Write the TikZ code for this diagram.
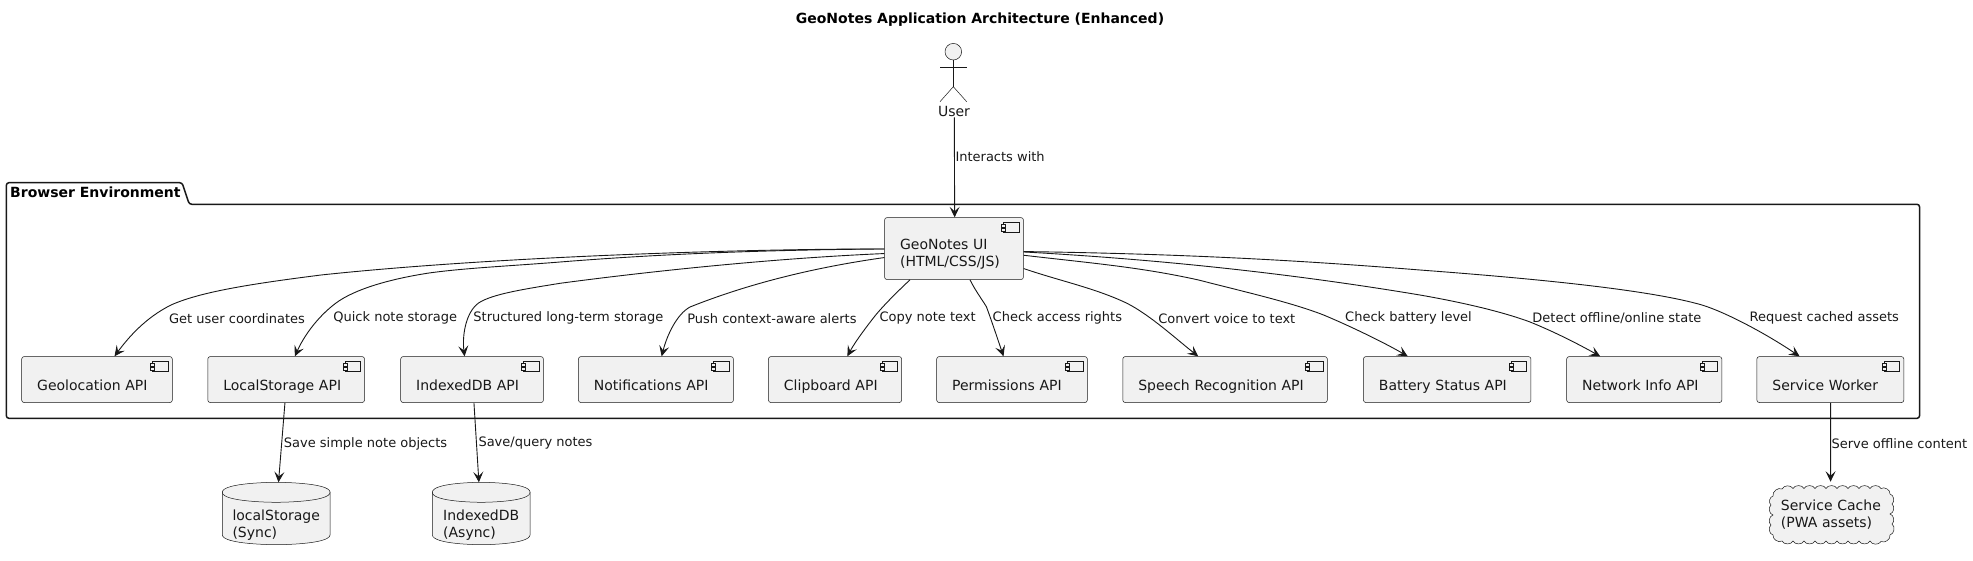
\documentclass[tikz,border=0pt]{standalone}
\usepackage{fontspec}
\setmainfont{DejaVu Sans}
\usetikzlibrary{arrows.meta,calc,backgrounds}
\definecolor{ink}{HTML}{181818}
\definecolor{boxfill}{HTML}{F1F1F1}
\newcommand{\drop}[2]{\raisebox{-#1pt}[0pt][0pt]{#2}}
\newcommand{\twolines}[2]{\begin{tabular}[b]{@{}l@{}}#1\\#2\end{tabular}}
\tikzset{
  x=1pt,y=-1pt,
  comp/.style={draw=ink,line width=0.5pt,fill=boxfill,rounded corners=2.5pt,anchor=north west,
    inner xsep=#1,inner ysep=0pt,align=left,font=\fontsize{14}{16.6}\selectfont,text=ink},
  compw/.style={text width=#1-31pt,minimum width=#1,minimum height=46pt},
  shapetext/.style={inner sep=0pt,anchor=north west,align=left,font=\fontsize{14}{16.6}\selectfont,text=ink},
  elabel/.style={inner sep=0pt,anchor=west,font=\fontsize{13}{15}\selectfont,text=ink},
  edge/.style={draw=ink,line width=0.9pt,-{Stealth[length=10.5pt,width=10pt,inset=4.5pt]}},
  thin ink/.style={draw=ink,line width=0.5pt},
  pkg/.style={draw=ink,line width=1.5pt,rounded corners=2.5pt}
}
\newcommand{\icon}[1]{%
  \draw[thin ink,fill=boxfill] ($(#1.north east)+(-20,5)$) rectangle ++(15.3,10);
  \draw[thin ink,fill=boxfill] ($(#1.north east)+(-22,7.3)$) rectangle ++(4,2.3);
  \draw[thin ink,fill=boxfill] ($(#1.north east)+(-22,11.3)$) rectangle ++(4,2.3);
}
\begin{document}
\begin{tikzpicture}
\useasboundingbox (0,0) rectangle (1973,560);
% title
\node[inner sep=0pt,font=\fontsize{14}{16}\selectfont\bfseries,text=black] (title) at (980,20) {GeoNotes Application Architecture (Enhanced)};
% package
\draw[pkg] (6.4,204.3) -- (6.4,182.7) -- (182.1,182.7) -- (189.3,204.3) -- (1919.5,204.3) -- (1919.5,418.3) -- (6.4,418.3) -- cycle;
\node[inner sep=0pt,anchor=west,font=\fontsize{14}{16}\selectfont\bfseries,text=black] (pkgtitle) at (10,192.5) {Browser Environment};
% actor
\node[inner sep=0pt,font=\fontsize{14}{16}\selectfont,text=ink] (user) at (954,111) {User};
\node[circle,thin ink,fill=boxfill,minimum size=16.6pt,inner sep=0pt] (head) at (953.3,51.7) {};
\coordinate (hip) at (953.3,86.7);
\draw[thin ink] (head.south) -- (hip);
\draw[thin ink] (940,67.3) -- (966.7,67.3);
\draw[thin ink] (940,101.7) -- (hip) -- (966.7,101.7);
% components
\node[comp=15.5pt,compw=138.9pt,minimum height=62pt] (ui) at (884.3,217.3) {\drop{17.7}{\twolines{GeoNotes UI}{(HTML/CSS/JS)}}};
\node[comp=15.5pt,compw=150.7pt] (geo) at (21.4,356.3) {\drop{11}{Geolocation API}};
\node[comp=15pt,compw=156.8pt] (lsa) at (207.5,356.3) {\drop{11}{LocalStorage API}};
\node[comp=15pt,compw=142.8pt] (ida) at (400.4,356.3) {\drop{11}{IndexedDB API}};
\node[comp=15.5pt,compw=155pt] (noti) at (578.2,356.3) {\drop{11}{Notifications API}};
\node[comp=15pt,compw=133.2pt] (clip) at (768.2,356.3) {\drop{11}{Clipboard API}};
\node[comp=15.5pt,compw=150.7pt] (perm) at (936.4,356.3) {\drop{11}{Permissions API}};
\node[comp=15pt,compw=204.6pt] (speech) at (1122.5,356.3) {\drop{11}{Speech Recognition API}};
\node[comp=15pt,compw=167.5pt] (batt) at (1363.2,356.3) {\drop{11}{Battery Status API}};
\node[comp=15pt,compw=155.2pt] (net) at (1566.4,356.3) {\drop{11}{Network Info API}};
\node[comp=15.5pt,compw=147pt] (sw) at (1756.6,356.3) {\drop{11}{Service Worker}};
\foreach \n in {ui,geo,lsa,ida,noti,clip,perm,speech,batt,net,sw}{\icon{\n}}
% stores
\node[shapetext,minimum width=107.4pt,minimum height=62pt,inner xsep=10pt,text width=87.4pt] (lsdb) at (222.3,482.3) {\drop{24}{\twolines{localStorage}{(Sync)}}};
\node[shapetext,minimum width=97.4pt,minimum height=62pt,inner xsep=10.7pt,text width=76pt] (iddb) at (432.3,482.3) {\drop{24}{\twolines{IndexedDB}{(Async)}}};
\node[shapetext,minimum width=127.7pt,minimum height=60pt,inner xsep=12.7pt,text width=102.3pt] (cache) at (1768,485) {\drop{12}{\twolines{Service Cache}{(PWA assets)}}};
\begin{scope}[on background layer]
\foreach \n in {lsdb,iddb}{
  \draw[thin ink,fill=boxfill] ($(\n.north west)+(0,10)$)
    .. controls (\n.north west) and (\n.north) .. (\n.north)
    .. controls (\n.north) and (\n.north east) .. ($(\n.north east)+(0,10)$)
    -- ($(\n.south east)+(0,-10)$)
    .. controls (\n.south east) and (\n.south) .. (\n.south)
    .. controls (\n.south) and (\n.south west) .. ($(\n.south west)+(0,-10)$) -- cycle;
  \draw[thin ink] ($(\n.north west)+(0,10)$)
    .. controls ($(\n.north west)+(0,20)$) and ($(\n.north)+(0,20)$) .. ($(\n.north)+(0,20)$)
    .. controls ($(\n.north)+(0,20)$) and ($(\n.north east)+(0,20)$) .. ($(\n.north east)+(0,10)$);
}
\draw[thin ink,fill=boxfill] (1773,496)
  to[bend left=65] (1782,489)
  \foreach \x in {1793,1804,1815,1826,1837,1848,1859,1870,1881} { to[bend left=65] (\x,488.5) }
  to[bend left=65] (1890,494)
  \foreach \x/\y in {1892/504,1890/514,1892/524,1890/535} { to[bend left=65] (\x,\y) }
  to[bend left=65] (1881,541.5)
  \foreach \x in {1870,1859,1848,1837,1826,1815,1804,1793,1782} { to[bend left=65] (\x,541) }
  to[bend left=65] (1773,535)
  \foreach \x/\y in {1771/525,1773/515,1771/505,1773/496} { to[bend left=65] (\x,\y) };
\end{scope}
% edges
\draw[edge] ([xshift=0.3pt,yshift=-1pt]user.south) -- ([xshift=0.65pt]ui.north);
\draw[edge] ([yshift=-0.4pt]ui.west) .. controls (720,249) and (480,258) .. (321,275) .. controls (250,284) and (200,292) .. (171,305) .. controls (145,318) and (128,338) .. ([xshift=17.5pt]geo.north);
\draw[edge] ([yshift=-0.4pt]ui.west) .. controls (760,250) and (660,254) .. (560,262) .. controls (510,266) and (465,268) .. (429,273) .. controls (390,279) and (355,289) .. (336,303) .. controls (316,318) and (303,338) .. ([xshift=8.7pt]lsa.north);
\draw[edge] ([yshift=-5pt]ui.west) .. controls (780,258) and (660,270) .. (560,283.3) .. controls (525,289) and (492,294) .. (478.6,303) .. controls (466,312) and (462,335) .. ([xshift=-7.5pt]ida.north);
\draw[edge] ([yshift=-9pt]ui.west) .. controls (810,268) and (745,285) .. (690,307) .. controls (677,314) and (667,335) .. ([xshift=5.7pt]noti.north);
\draw[edge] ([xshift=-44pt]ui.south) .. controls (897,292) and (884,305) .. (875.7,315) .. controls (867,326) and (855,342) .. ([xshift=12.3pt]clip.north);
\draw[edge] ([xshift=16pt]ui.south) .. controls (975,290) and (981,298) .. (986.4,306.7) .. controls (992,322) and (998,340) .. ([xshift=-8.5pt]perm.north);
\draw[edge] ([yshift=-20pt]ui.east) .. controls (1060,281) and (1095,288) .. (1127,303.3) .. controls (1150,315) and (1175,338) .. ([xshift=-26.9pt]speech.north);
\draw[edge] ([yshift=-6.7pt]ui.east) .. controls (1090,263) and (1140,267) .. (1198.6,280) .. controls (1245,292) and (1290,302) .. (1323.6,315) .. controls (1350,326) and (1385,343) .. ([xshift=-39.5pt]batt.north);
\draw[edge] ([yshift=-3.4pt]ui.east) .. controls (1170,260) and (1300,275) .. (1420,295) .. controls (1460,302) and (1500,311) .. (1529.3,321.7) .. controls (1555,332) and (1580,345) .. ([xshift=-44.1pt]net.north);
\draw[edge] ([yshift=-3pt]ui.east) .. controls (1200,254) and (1320,262) .. (1420,270) .. controls (1540,279) and (1650,290) .. (1702,305) .. controls (1725,312) and (1765,333) .. ([xshift=-30.8pt]sw.north);
\draw[edge] ([xshift=-1.2pt]lsa.south) -- ([xshift=2.3pt]lsdb.north);
\draw[edge] ([xshift=1.9pt]ida.south) -- ([xshift=-2.3pt]iddb.north);
\draw[edge] ([xshift=0.3pt]sw.south) -- ([xshift=-1.5pt,yshift=3.3pt]cache.north);
% labels
\node[elabel] (l0) at (955.3,157) {Interacts with};
\node[elabel] (l1) at (168.9,318.3) {Get user coordinates};
\node[elabel] (l2) at (333.2,318.3) {Quick note storage};
\node[elabel] (l3) at (473.2,318.3) {Structured long-term storage};
\node[elabel] (l4) at (687.1,318.3) {Push context-aware alerts};
\node[elabel] (l5) at (879.3,318.3) {Copy note text};
\node[elabel] (l6) at (992.5,318.3) {Check access rights};
\node[elabel] (l7) at (1158.2,318.3) {Convert voice to text};
\node[elabel] (l8) at (1345,318.3) {Check battery level};
\node[elabel] (l9) at (1532.2,318.3) {Detect offline/online state};
\node[elabel] (l10) at (1749.5,318.3) {Request cached assets};
\node[elabel] (l11) at (283.7,443.5) {Save simple note objects};
\node[elabel] (l12) at (478.3,443.5) {Save/query notes};
\node[elabel] (l13) at (1831.3,443.5) {Serve offline content};
\end{tikzpicture}
\end{document}
